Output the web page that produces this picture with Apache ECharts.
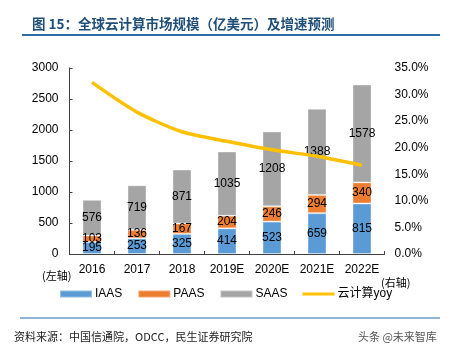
<!DOCTYPE html>
<html><head><meta charset="utf-8">
<script src="https://cdn.jsdelivr.net/npm/echarts@6/dist/echarts.min.js"></script>
<style>html,body{margin:0;padding:0;background:#fff}#c{width:451px;height:357px}</style>
</head><body><div id="c"></div>
<script>
var categories = ['2016','2017','2018','2019E','2020E','2021E','2022E'];
var iaas = [195,253,325,414,523,659,815];
var paas = [103,136,167,204,246,294,340];
var saas = [576,719,871,1035,1208,1388,1578];
var yoy = [32.3,26.7,23.0,21.2,19.6,18.4,16.7];
var leftTicks = [0,3000,500];
var rightTicks = [0,35,5];

var chart = echarts.init(document.getElementById('c'), null, {renderer:'canvas'});
var lblFont = {fontFamily:'Arial, "Liberation Sans"', fontSize:12, color:'#000'};
function barSeries(name, data, color){
  return {name:name, type:'bar', stack:'t', data:data, barWidth:19,
    itemStyle:{color:color, borderColor:'rgba(255,255,255,0.35)', borderWidth:1},
    label:Object.assign({show:true, position:'inside'}, lblFont)};
}
chart.setOption({
  animation:false,
  grid:{left:69.5, right:66.5, top:68, bottom:103},
  xAxis:{type:'category', data:categories,
    axisLine:{lineStyle:{color:'#404040', width:1}},
    axisTick:{show:true, inside:true, length:3, lineStyle:{color:'#404040'}},
    axisLabel:{interval:0, margin:10, fontFamily:'Arial, "Liberation Sans"', fontSize:12, color:'#000'}},
  yAxis:[
    {type:'value', min:leftTicks[0], max:leftTicks[1], interval:leftTicks[2],
     axisLine:{show:true, lineStyle:{color:'#404040'}},
     axisTick:{show:true, inside:true, length:3, lineStyle:{color:'#404040'}},
     splitLine:{show:false},
     axisLabel:{margin:11, fontFamily:'Arial, "Liberation Sans"', fontSize:12, color:'#000',
       formatter:function(v){return String(v);}}},
    {type:'value', min:rightTicks[0], max:rightTicks[1], interval:rightTicks[2],
     axisLine:{show:false}, axisTick:{show:false}, splitLine:{show:false},
     axisLabel:{margin:10, fontFamily:'Arial, "Liberation Sans"', fontSize:12, color:'#000',
       formatter:function(v){return v.toFixed(1)+'%';}}}
  ],
  legend:{left:54, top:283, itemWidth:32, itemHeight:7, itemGap:15,
    textStyle:{fontFamily:'Arial, "Liberation Sans", "Noto Sans CJK SC"', fontSize:12, color:'#000', padding:[0,0,0,-2]},
    data:[{name:'IAAS', icon:'rect'},{name:'PAAS', icon:'rect'},{name:'SAAS', icon:'rect'},
          {name:'云计算yoy', icon:'path://M0,0L32,0L32,3L0,3Z'}]},
  series:[
    barSeries('IAAS', iaas, '#5b9bd5'),
    barSeries('PAAS', paas, '#ed7d31'),
    barSeries('SAAS', saas, '#a5a5a5'),
    {name:'云计算yoy', type:'line', yAxisIndex:1, data:yoy, symbol:'none', smooth:0.25,
     lineStyle:{color:'#ffc000', width:3.5}, itemStyle:{color:'#ffc000'}, z:5}
  ],
  graphic:[
    {type:'text', left:32, top:17, style:{text:'图 15：全球云计算市场规模（亿美元）及增速预测', fontFamily:'"Noto Sans CJK SC"', fontWeight:'bold', fontSize:13.5, fill:'#1f4e79'}},
    {type:'line', shape:{x1:22,y1:35,x2:440,y2:35}, style:{stroke:'#2e6ca4', lineWidth:2}},
    {type:'text', left:42, top:270, style:{text:'(左轴)', fontFamily:'"Noto Sans CJK SC"', fontSize:11, fill:'#000'}},
    {type:'text', left:381, top:277, style:{text:'(右轴)', fontFamily:'"Noto Sans CJK SC"', fontSize:11, fill:'#000'}},
    {type:'line', shape:{x1:20,y1:318,x2:440,y2:318}, style:{stroke:'#8fb4d9', lineWidth:2}},
    {type:'text', left:14, top:331, style:{text:'资料来源：中国信通院，ODCC，民生证券研究院', fontFamily:'"Noto Sans CJK SC"', fontSize:11, fill:'#222'}},
    {type:'text', left:358, top:331, style:{text:'头条 @未来智库', fontFamily:'"Noto Sans CJK SC"', fontSize:11, fill:'#555'}}
  ]
});
</script></body></html>
